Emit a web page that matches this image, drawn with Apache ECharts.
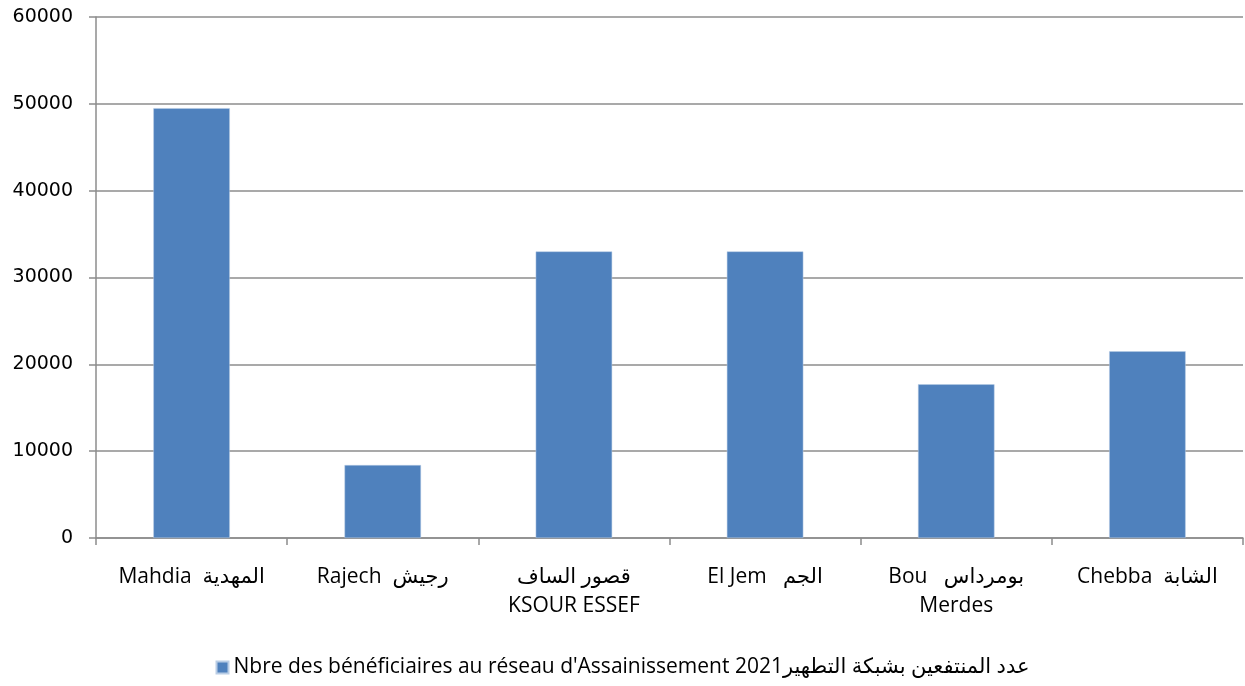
<!DOCTYPE html>
<html lang="fr">
<head>
<meta charset="UTF-8">
<title>Bénéficiaires assainissement 2021</title>
<script src="https://cdn.jsdelivr.net/npm/echarts@6/dist/echarts.min.js"></script>
<style>
  html, body { margin: 0; padding: 0; background: #fff; }
  #main { width: 1245px; height: 686px; }
</style>
</head>
<body>
<div id="main"></div>
<script>
// communes (label shown under each bar)
var categories = [
  'Mahdia  المهدية',
  'Rajech  رجيش',
  'قصور الساف\nKSOUR ESSEF',
  'El Jem   الجم',
  'Bou   بومرداس\nMerdes',
  'Chebba  الشابة'
];
// number of beneficiaries
var beneficiaires = [49500, 8400, 33000, 33000, 17700, 21500];
var seriesName = "Nbre des bénéficiaires au réseau d'Assainissement 2021عدد المنتفعين بشبكة التطهير";

var gray = '#8c8c8c';
var chart = echarts.init(document.getElementById('main'));

var option = {
  animation: false,
  grid: { left: 96, right: 2, top: 17, bottom: 148 },
  legend: {
    bottom: 3,
    left: 'center',
    itemWidth: 12,
    itemHeight: 12,
    itemGap: 6,
    icon: 'rect',
    textStyle: { fontFamily: 'Open Sans, DejaVu Sans, sans-serif', fontSize: 21, color: '#000' },
    data: [seriesName]
  },
  xAxis: {
    type: 'category',
    data: categories,
    axisLine: { lineStyle: { color: gray, width: 1.5 } },
    axisTick: { show: true, alignWithLabel: false, length: 7, lineStyle: { color: gray, width: 1.5 } },
    axisLabel: {
      interval: 0,
      margin: 25,
      fontSize: 21,
      lineHeight: 29,
      color: '#000',
      fontFamily: 'Open Sans, DejaVu Sans, sans-serif'
    }
  },
  yAxis: {
    type: 'value',
    min: 0,
    max: 60000,
    interval: 10000,
    axisLine: { show: true, lineStyle: { color: gray, width: 1.5 } },
    axisTick: { show: true, length: 7, lineStyle: { color: gray, width: 1.5 } },
    splitLine: { lineStyle: { color: gray, width: 1.5 } },
    axisLabel: {
      margin: 23,
      fontSize: 19,
      color: '#000',
      fontFamily: 'DejaVu Sans, sans-serif',
      formatter: function (v) { return String(v); }
    }
  },
  series: [{
    name: seriesName,
    type: 'bar',
    data: beneficiaires,
    barCategoryGap: '60%',
    itemStyle: { color: '#4f81bd', borderColor: '#b9cde5', borderWidth: 0.5 }
  }]
};
chart.setOption(option);
</script>
</body>
</html>
